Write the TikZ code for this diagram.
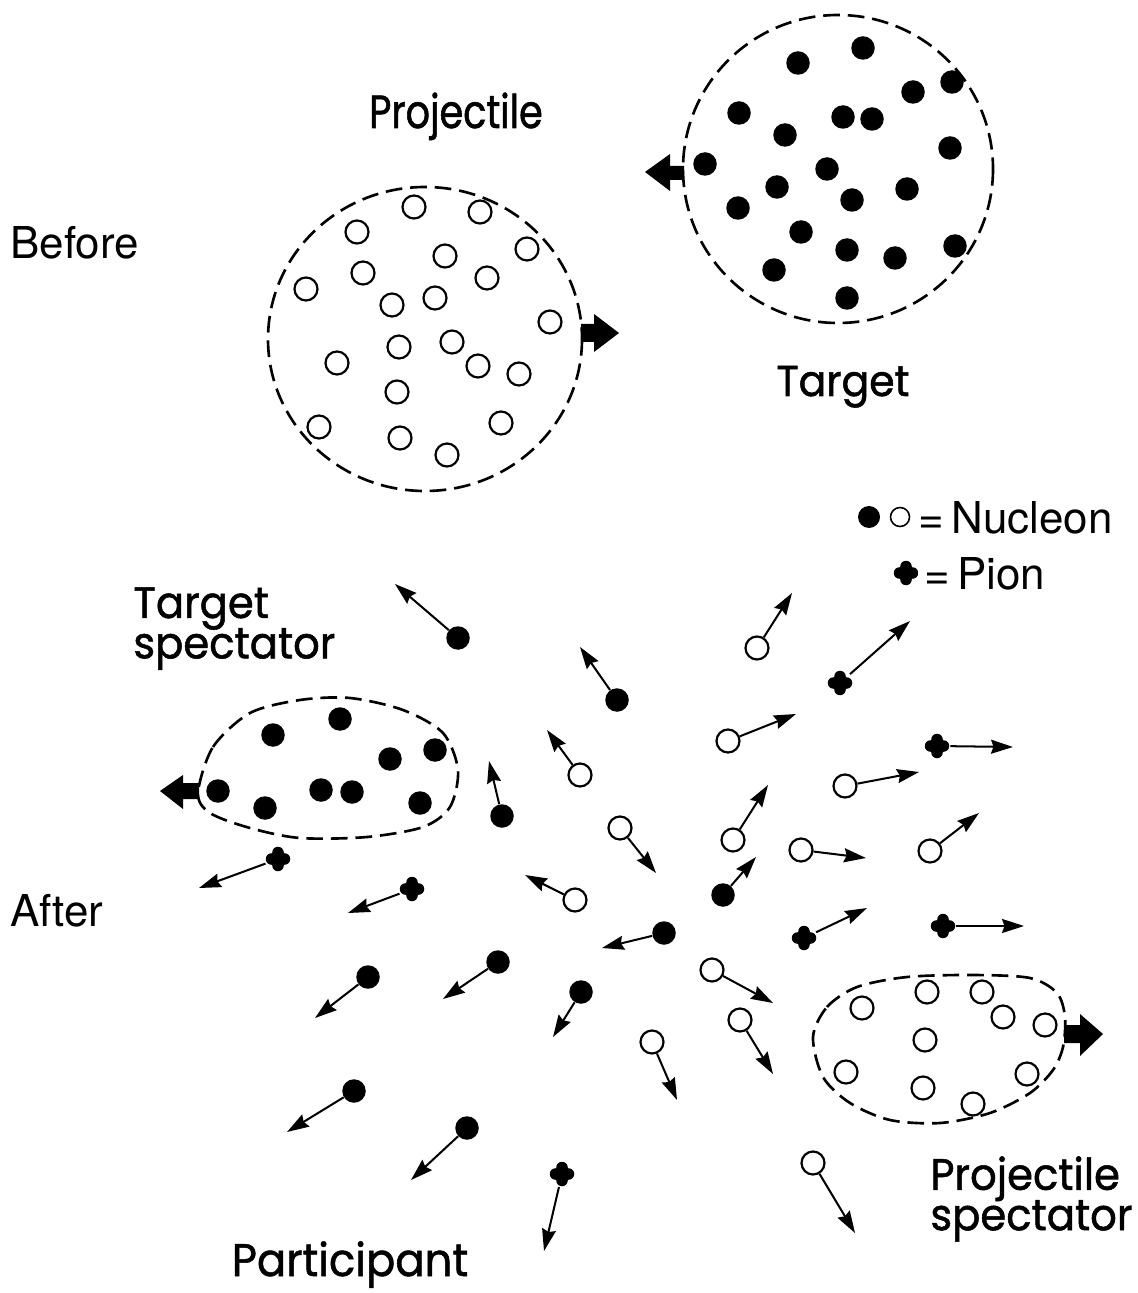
\documentclass[tikz,border=0pt]{standalone}
\usepackage{fontspec}
\newfontfamily\geo[FakeStretch=0.95,FakeBold=1.2]{Poppins}
\newfontfamily\geonarrow[FakeStretch=0.82,FakeBold=1.2]{Poppins}
\newfontfamily\helv{TeX Gyre Heros}
\usetikzlibrary{arrows.meta}
\newcommand\ptcl[4]{\node[#1] (#2) at (#3) {}; \coordinate (#2-tip) at (#4); \draw[mv] (#2) -- (#2-tip);}
\newcommand\tightlines{\lineskiplimit=-100pt\relax}
\begin{document}
\begin{tikzpicture}[x=0.02cm,y=-0.02cm,
  fn/.style={circle,fill=black,inner sep=0pt,minimum size=0.47cm},
  on/.style={circle,draw=black,line width=1.25pt,inner sep=0pt,minimum size=0.46cm},
  pion/.style={circle,inner sep=0pt,minimum size=0.52cm,
    path picture={
      \fill[black] (path picture bounding box.center) circle[radius=0.17cm];
      \foreach \a in {0,90,180,270}{\fill[black] (path picture bounding box.center) ++(\a:0.13cm) circle[radius=0.115cm];}
    }},
  mv/.style={line width=1.15pt,-{Stealth[length=0.44cm,width=0.28cm,inset=0.05cm]}},
  rim/.style={dash pattern=on 9.5pt off 4.5pt,line width=1.5pt},
  lab/.style={font={\geo\fontsize{25}{23}\selectfont\tightlines},inner sep=0pt},
  lt/.style={font=\helv\fontsize{25}{30}\selectfont,inner sep=0pt}
]
\useasboundingbox (0,0) rectangle (1137,1293);

% ---------- Before ----------
\draw[rim] (425,339) ellipse [x radius=157, y radius=152];
\draw[rim] (838,169) ellipse [x radius=155, y radius=154];

\foreach \x/\y [count=\i] in {414/207,480/212,357/232,527/249,445/256,363/273,487/278,306/289,392/305,435/298,550/322,399/347,452/342,478/366,337/363,519/374,397/392,501/423,319/427,400/438,447/455}
  \node[on] (pr\i) at (\x,\y) {};

\foreach \x/\y [count=\i] in {863/48,798/63,913/92,952/82,739/113,843/117,872/119,785/135,950/148,705/164,827/169,777/187,852/200,907/189,738/208,801/232,847/250,895/258,955/246,774/270,847/298}
  \node[fn] (ta\i) at (\x,\y) {};

% block arrows
\fill (581,324) -- (594,324) -- (594,314) -- (619,333) -- (594,352) -- (594,342) -- (581,342) -- cycle;
\fill (684,166) -- (670,166) -- (670,154) -- (645,172) -- (670,191) -- (670,180) -- (684,180) -- cycle;

\node[lab,anchor=base,font=\geonarrow\fontsize{26.5}{28}\selectfont] (lproj) at (456,128) {Projectile};
\node[lab,anchor=base,font=\geo\fontsize{24.5}{25}\selectfont] (ltarg) at (843,396) {Target};
\node[lt,anchor=base west] (lbef) at (10,259) {Before};

% ---------- legend ----------
\node[fn,minimum size=0.44cm] (legf) at (869,517) {};
\node[on,minimum size=0.38cm,line width=0.9pt] (lego) at (900,517) {};
\node[lt,anchor=base west] (legn) at (918,533) {=\,Nucleon};
\node[pion,minimum size=0.5cm] (legp) at (906,573) {};
\node[lt,anchor=base west] (legpi) at (924,589) {=\,Pion};

% ---------- After ----------
\node[lt,anchor=base west] (laft) at (10,926) {After};
\node[lab,anchor=north west,align=left] (lts) at (133,587) {Target\\spectator};
\node[lab,anchor=north west,align=left] (lps) at (930,1156) {Projectile\\spectator};
\node[lab,anchor=base,font=\geo\fontsize{26}{28}\selectfont] (lpart) at (350,1276) {Participant};

% target spectator
\draw[rim] plot[smooth cycle] coordinates {(198,793) (213,747) (250,713) (300,700) (350,698) (403,710) (443,733) (458,770) (450,807) (423,827) (367,837) (300,838) (250,828) (210,813)};
\foreach \x/\y [count=\i] in {273/735,340/719,390/759,435/750,218/791,265/808,321/790,352/792,420/803}
  \node[fn] (ts\i) at (\x,\y) {};
\fill (199,783) -- (183,783) -- (183,775) -- (160,791) -- (183,809) -- (183,799) -- (199,799) -- cycle;

% projectile spectator
\draw[rim] plot[smooth cycle] coordinates {(813,1037) (827,1007) (857,987) (907,977) (973,975) (1030,978) (1057,993) (1065,1017) (1063,1047) (1053,1070) (1030,1093) (990,1113) (940,1123) (890,1120) (850,1103) (823,1077)};
\foreach \x/\y [count=\i] in {862/1008,927/992,982/992,1003/1017,1045/1025,925/1040,846/1072,1027/1074,923/1088,973/1104}
  \node[on] (ps\i) at (\x,\y) {};
\fill (1064,1025) -- (1080,1025) -- (1080,1014) -- (1103,1034) -- (1080,1056) -- (1080,1043) -- (1064,1043) -- cycle;

% participants
\ptcl{fn}{a1}{458,638}{395,584}
\ptcl{fn}{a2}{617,700}{580,647}
\ptcl{on}{a3}{757,648}{792,593}
\ptcl{pion}{a4}{840,683}{910,621}
\ptcl{on}{a5}{728,741}{796,714}
\ptcl{pion}{a6}{937,746}{1013,747}
\ptcl{on}{a7}{580,775}{547,730}
\ptcl{fn}{a8}{502,816}{489,761}
\ptcl{on}{a9}{620,828}{656,873}
\ptcl{on}{a10}{733,840}{768,785}
\ptcl{on}{a11}{845,786}{919,772}
\ptcl{on}{a12}{801,850}{866,858}
\ptcl{on}{a13}{930,851}{979,813}
\ptcl{pion}{a14}{278,859}{199,888}
\ptcl{pion}{a15}{412,889}{348,913}
\ptcl{on}{a16}{575,900}{525,875}
\ptcl{fn}{a17}{723,895}{756,857}
\ptcl{fn}{a18}{664,933}{602,948}
\ptcl{pion}{a19}{943,926}{1024,926}
\ptcl{pion}{a20}{804,938}{867,908}
\ptcl{fn}{a21}{498,962}{443,999}
\ptcl{on}{a22}{712,970}{773,1003}
\ptcl{fn}{a23}{368,977}{315,1018}
\ptcl{fn}{a24}{581,992}{553,1037}
\ptcl{on}{a25}{740,1020}{773,1074}
\ptcl{on}{a26}{652,1042}{677,1100}
\ptcl{fn}{a27}{354,1091}{287,1132}
\ptcl{fn}{a28}{467,1128}{411,1180}
\ptcl{pion}{a29}{562,1174}{544,1251}
\ptcl{on}{a30}{813,1163}{855,1233}
\end{tikzpicture}
\end{document}
